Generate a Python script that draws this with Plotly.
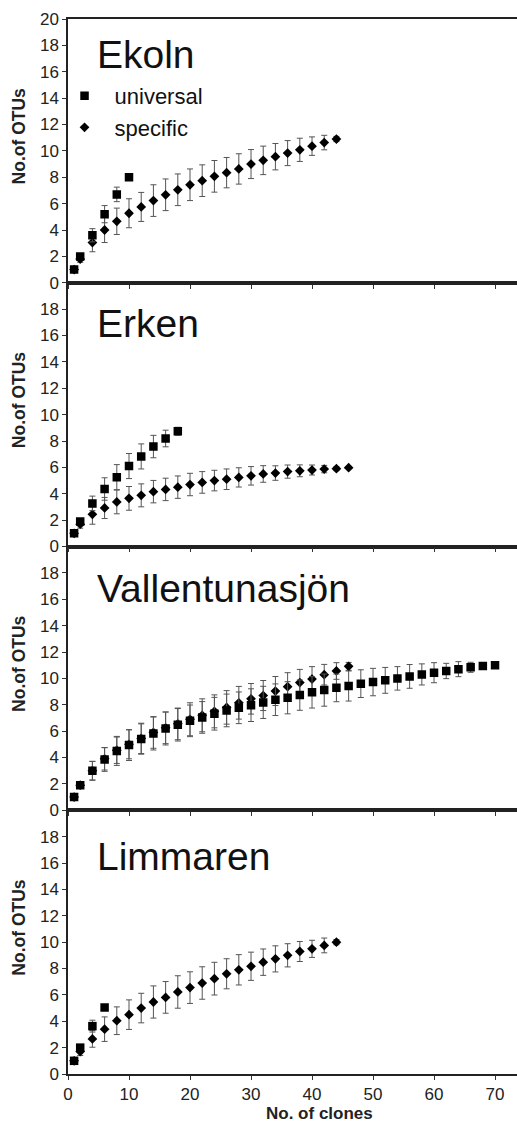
import plotly.graph_objects as go
from plotly.subplots import make_subplots

lakes = ["Ekoln", "Erken", "Vallentunasjön", "Limmaren"]

# ---- Ekoln ----
ekoln_uni_x = [1, 2, 4, 6, 8, 10]
ekoln_uni_y = [1.0, 2.0, 3.6, 5.2, 6.7, 8.0]
ekoln_uni_e = [0, 0.2, 0.5, 0.65, 0.55, 0]
ekoln_spec_x = [1, 2] + list(range(4, 45, 2))
ekoln_spec_y = [1.0, 1.8, 3.05, 4.0, 4.66, 5.27, 5.75, 6.23, 6.67, 7.05, 7.43, 7.74,
                8.07, 8.35, 8.63, 9.0, 9.28, 9.56, 9.83, 10.08, 10.36, 10.63, 10.9]
ekoln_spec_e = [0, 0.25, 0.7, 0.95, 1.0, 1.1, 1.1, 1.2, 1.2, 1.2, 1.2, 1.2,
                1.2, 1.15, 1.15, 1.1, 1.08, 1.0, 0.95, 0.88, 0.7, 0.55, 0.2]

# ---- Erken ----
erken_uni_x = [1, 2, 4, 6, 8, 10, 12, 14, 16, 18]
erken_uni_y = [1.0, 1.9, 3.27, 4.36, 5.26, 6.1, 6.83, 7.58, 8.19, 8.74]
erken_uni_e = [0, 0.2, 0.55, 0.85, 0.95, 0.95, 0.95, 0.85, 0.63, 0.3]
erken_spec_x = [1, 2] + list(range(4, 47, 2))
erken_spec_y = [1.0, 1.69, 2.44, 2.92, 3.38, 3.65, 3.88, 4.16, 4.33, 4.5, 4.7, 4.86,
                5.0, 5.1, 5.24, 5.36, 5.5, 5.57, 5.68, 5.74, 5.8, 5.87, 5.9, 5.98]
erken_spec_e = [0, 0.3, 0.75, 0.8, 0.9, 0.9, 0.87, 0.85, 0.85, 0.85, 0.85, 0.82,
                0.78, 0.78, 0.73, 0.7, 0.63, 0.55, 0.5, 0.45, 0.38, 0.28, 0.15, 0]

# ---- Vallentunasjön ----
vall_uni_x = [1, 2] + list(range(4, 71, 2))
vall_uni_y = [1.01, 1.9, 2.99, 3.85, 4.5, 4.94, 5.4, 5.82, 6.2, 6.48, 6.78, 7.04,
              7.32, 7.57, 7.77, 7.97, 8.18, 8.38, 8.53, 8.73, 8.94, 9.11, 9.28, 9.42,
              9.6, 9.72, 9.85, 10.0, 10.15, 10.3, 10.43, 10.56, 10.7, 10.84, 10.94, 11.0]
vall_uni_e = [0, 0.2, 0.72, 0.9, 1.1, 1.17, 1.15, 1.25, 1.25, 1.23, 1.2, 1.2,
              1.24, 1.24, 1.2, 1.24, 1.22, 1.2, 1.22, 1.15, 1.19, 1.22, 1.05, 1.14,
              1.05, 1.04, 0.98, 0.89, 0.9, 0.8, 0.76, 0.58, 0.57, 0.38, 0.2, 0]
vall_spec_x = [1, 2] + list(range(4, 47, 2))
vall_spec_y = [1.0, 1.9, 3.0, 3.9, 4.55, 5.0, 5.45, 5.9, 6.25, 6.55, 6.9, 7.2,
               7.5, 7.8, 8.15, 8.45, 8.7, 9.04, 9.37, 9.68, 9.95, 10.28, 10.56, 10.91]
vall_spec_e = [0, 0.2, 0.7, 0.85, 1.0, 1.1, 1.15, 1.2, 1.2, 1.2, 1.25, 1.25,
               1.25, 1.27, 1.24, 1.16, 1.14, 1.1, 1.06, 1.0, 0.94, 0.78, 0.63, 0.3]

# ---- Limmaren ----
limm_uni_x = [1, 2, 4, 6]
limm_uni_y = [1.0, 2.0, 3.63, 5.05]
limm_uni_e = [0, 0.2, 0.45, 0]
limm_spec_x = [1, 2] + list(range(4, 45, 2))
limm_spec_y = [1.0, 1.7, 2.66, 3.4, 4.04, 4.5, 5.0, 5.46, 5.81, 6.22, 6.55, 6.9,
               7.23, 7.6, 7.9, 8.17, 8.48, 8.73, 9.0, 9.29, 9.49, 9.75, 10.0]
limm_spec_e = [0, 0.3, 0.63, 0.93, 1.05, 1.12, 1.12, 1.22, 1.2, 1.23, 1.2, 1.23,
               1.24, 1.14, 1.15, 1.07, 1.0, 0.99, 0.88, 0.76, 0.65, 0.56, 0.2]

x_ticks = [0, 10, 20, 30, 40, 50, 60, 70]
y_ticks_top = [0, 2, 4, 6, 8, 10, 12, 14, 16, 18, 20]
y_ticks = [0, 2, 4, 6, 8, 10, 12, 14, 16, 18]

panels = [
    (ekoln_uni_x, ekoln_uni_y, ekoln_uni_e, ekoln_spec_x, ekoln_spec_y, ekoln_spec_e),
    (erken_uni_x, erken_uni_y, erken_uni_e, erken_spec_x, erken_spec_y, erken_spec_e),
    (vall_uni_x, vall_uni_y, vall_uni_e, vall_spec_x, vall_spec_y, vall_spec_e),
    (limm_uni_x, limm_uni_y, limm_uni_e, limm_spec_x, limm_spec_y, limm_spec_e),
]
title_y = [17.3, 16.9, 16.8, 16.5]

FONT = "Arial, Liberation Sans, Helvetica, sans-serif"
ERR_COLOR = "#555555"

fig = make_subplots(rows=4, cols=1, vertical_spacing=0)

for i, (ux, uy, ue, sx, sy, se) in enumerate(panels):
    row = i + 1
    fig.add_trace(go.Scatter(
        x=sx, y=sy, mode="markers", name="specific",
        marker=dict(symbol="diamond", size=7.5, color="black"),
        error_y=dict(type="data", array=se, visible=True, color=ERR_COLOR, thickness=1, width=3),
        showlegend=(i == 0), legendrank=2,
    ), row=row, col=1)
    fig.add_trace(go.Scatter(
        x=ux, y=uy, mode="markers", name="universal",
        marker=dict(symbol="square", size=8.5, color="black"),
        error_y=dict(type="data", array=ue, visible=True, color=ERR_COLOR, thickness=1, width=3),
        showlegend=(i == 0), legendrank=1,
    ), row=row, col=1)

    fig.update_xaxes(
        row=row, col=1, range=[0, 73.6], tickvals=x_ticks,
        showticklabels=(row == 4), ticks="outside", ticklen=4, tickcolor="#333",
        showline=True, linecolor="#222", linewidth=1.5, mirror=True,
        showgrid=False, zeroline=False,
        tickfont=dict(family=FONT, size=17, color="#222"),
    )
    fig.update_yaxes(
        row=row, col=1, range=[0, 20], tickvals=(y_ticks_top if row == 1 else y_ticks),
        ticks="outside", ticklen=4, tickcolor="#333",
        showline=True, linecolor="#222", linewidth=1.5, mirror=False,
        showgrid=False, zeroline=False,
        tickfont=dict(family=FONT, size=17, color="#222"),
    )
    yref = "y" if row == 1 else f"y{row}"
    xref = "x" if row == 1 else f"x{row}"
    fig.add_annotation(
        x=4.4, y=title_y[i], xref=xref, yref=yref, text=lakes[i],
        showarrow=False, xanchor="left", yanchor="middle",
        font=dict(family=FONT, size=39, color="#111"),
    )
    fig.add_annotation(
        x=-0.109, y=11.1, xref="paper", yref=yref, text="<b>No.of OTUs</b>",
        showarrow=False, textangle=-90, xanchor="center", yanchor="middle",
        font=dict(family=FONT, size=17.5, color="#222"),
    )

fig.add_annotation(
    x=0.561, y=-0.037, xref="paper", yref="paper", text="<b>No. of clones</b>",
    showarrow=False, xanchor="center", yanchor="middle",
    font=dict(family=FONT, size=17, color="#222"),
)

fig.update_layout(
    width=517, height=1122,
    margin=dict(l=68, r=0, t=19, b=48),
    paper_bgcolor="white", plot_bgcolor="white",
    showlegend=True,
    legend=dict(
        x=-0.03, y=0.947, xanchor="left", yanchor="top",
        bgcolor="rgba(0,0,0,0)", itemwidth=50,
        font=dict(family=FONT, size=22, color="#111"),
        tracegroupgap=0,
    ),
)

fig.write_html("out.html")
